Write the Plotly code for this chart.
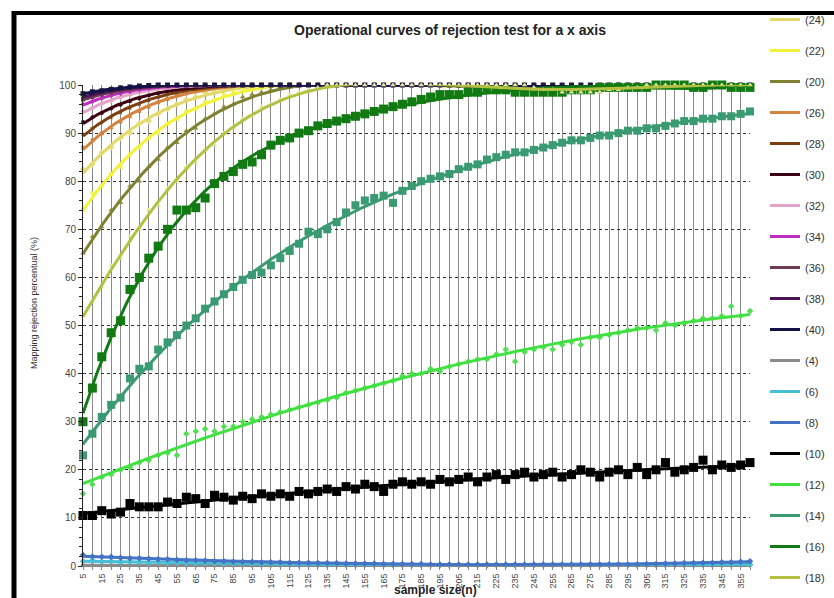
import numpy as np
import plotly.graph_objects as go

# ---------------- data ----------------
sample_size = [5, 10, 15, 20, 25, 30, 35, 40, 45, 50, 55, 60,
               65, 70, 75, 80, 85, 90, 95, 100, 105, 110, 115, 120,
               125, 130, 135, 140, 145, 150, 155, 160, 165, 170, 175, 180,
               185, 190, 195, 200, 205, 210, 215, 220, 225, 230, 235, 240,
               245, 250, 255, 260, 265, 270, 275, 280, 285, 290, 295, 300,
               305, 310, 315, 320, 325, 330, 335, 340, 345, 350, 355, 360]

rej_24 = [82.5, 83.5, 86.0, 87.0, 89.0, 90.0, 92.0, 92.5, 94.0, 95.0, 96.0, 97.0,
          97.5, 98.5, 98.5, 99.5, 99.5, 100, 100, 100, 100, 100, 100, 100,
          100, 100, 100, 100, 100, 100, 100, 100, 100, 100, 100, 100,
          100, 100, 100, 100, 100, 100, 100, 100, 100, 100, 100, 100,
          99.5, 99.5, 99.0, 99.0, 99.0, 99.0, 99.0, 99.0, 99.0, 99.5, 99.5, 100,
          100, 100, 100, 100, 100, 100, 100, 100, 100, 100, 100, 100]
rej_22 = [74.0, 77.5, 79.0, 81.5, 83.0, 85.5, 87.0, 89.0, 90.0, 92.0, 93.0, 94.5,
          95.0, 96.5, 97.0, 98.0, 98.5, 99.0, 99.5, 100, 100, 100, 100, 100,
          100, 100, 100, 100, 100, 100, 100, 100, 100, 100, 100, 100,
          100, 100, 100, 100, 100, 100, 100, 100, 100, 100, 100, 100,
          99.5, 99.5, 99.0, 99.0, 99.0, 99.0, 99.0, 99.0, 99.0, 99.5, 99.5, 100,
          100, 100, 100, 100, 100, 100, 100, 100, 100, 100, 100, 100]
rej_20 = [65.0, 68.5, 70.5, 74.0, 75.5, 79.0, 80.0, 83.0, 84.5, 87.0, 88.0, 90.5,
          91.0, 93.0, 94.0, 95.5, 96.0, 97.5, 98.0, 98.5, 99.0, 99.5, 100, 100,
          100, 100, 100, 100, 100, 100, 100, 100, 100, 100, 100, 100,
          100, 100, 100, 100, 100, 100, 100, 100, 100, 100, 100, 100,
          99.5, 99.0, 99.0, 98.5, 98.5, 98.5, 98.5, 98.5, 99.0, 99.0, 99.5, 99.5,
          100, 100, 100, 100, 100, 100, 100, 100, 100, 100, 100, 100]
rej_26 = [87.0, 88.5, 89.9, 91.2, 92.4, 93.5, 94.6, 95.5, 96.4, 97.1, 97.8, 98.4,
          98.9, 99.3, 99.6, 99.8, 100, 100, 100, 100, 100, 100, 100, 100,
          100, 100, 100, 100, 100, 100, 100, 100, 100, 100, 100, 100,
          100, 100, 100, 100, 100, 100, 100, 100, 100, 100, 100, 100,
          100, 99.5, 99.5, 99.5, 99.5, 99.5, 99.5, 99.5, 99.5, 100, 100, 100,
          100, 100, 100, 100, 100, 100, 100, 100, 100, 100, 100, 100]
rej_28 = [89.8, 91.0, 92.2, 93.3, 94.3, 95.2, 96.0, 96.8, 97.5, 98.1, 98.6, 99.0,
          99.4, 99.6, 99.8, 100, 100, 100, 100, 100, 100, 100, 100, 100,
          100, 100, 100, 100, 100, 100, 100, 100, 100, 100, 100, 100,
          100, 100, 100, 100, 100, 100, 100, 100, 100, 100, 100, 100,
          100, 99.5, 99.5, 99.5, 99.5, 99.5, 99.5, 99.5, 99.5, 100, 100, 100,
          100, 100, 100, 100, 100, 100, 100, 100, 100, 100, 100, 100]
rej_30 = [92.3, 93.3, 94.2, 95.1, 95.9, 96.6, 97.2, 97.8, 98.3, 98.8, 99.1, 99.5,
          99.7, 99.9, 100, 100, 100, 100, 100, 100, 100, 100, 100, 100,
          100, 100, 100, 100, 100, 100, 100, 100, 100, 100, 100, 100,
          100, 100, 100, 100, 100, 100, 100, 100, 100, 100, 100, 100,
          100, 99.5, 99.5, 99.5, 99.5, 99.5, 99.5, 99.5, 99.5, 100, 100, 100,
          100, 100, 100, 100, 100, 100, 100, 100, 100, 100, 100, 100]
rej_32 = [94.5, 95.3, 96.1, 96.7, 97.4, 97.9, 98.4, 98.8, 99.2, 99.5, 99.7, 99.9,
          100, 100, 100, 100, 100, 100, 100, 100, 100, 100, 100, 100,
          100, 100, 100, 100, 100, 100, 100, 100, 100, 100, 100, 100,
          100, 100, 100, 100, 100, 100, 100, 100, 100, 100, 100, 100,
          100, 99.5, 99.5, 99.5, 99.5, 99.5, 99.5, 99.5, 99.5, 100, 100, 100,
          100, 100, 100, 100, 100, 100, 100, 100, 100, 100, 100, 100]
rej_34 = [96.0, 96.6, 97.2, 97.8, 98.2, 98.6, 99.0, 99.3, 99.6, 99.8, 99.9, 100,
          100, 100, 100, 100, 100, 100, 100, 100, 100, 100, 100, 100,
          100, 100, 100, 100, 100, 100, 100, 100, 100, 100, 100, 100,
          100, 100, 100, 100, 100, 100, 100, 100, 100, 100, 100, 100,
          100, 100, 99.5, 99.5, 99.5, 99.5, 99.5, 99.5, 100, 100, 100, 100,
          100, 100, 100, 100, 100, 100, 100, 100, 100, 100, 100, 100]
rej_36 = [97.0, 97.5, 98.0, 98.4, 98.8, 99.1, 99.4, 99.6, 99.8, 99.9, 100, 100,
          100, 100, 100, 100, 100, 100, 100, 100, 100, 100, 100, 100,
          100, 100, 100, 100, 100, 100, 100, 100, 100, 100, 100, 100,
          100, 100, 100, 100, 100, 100, 100, 100, 100, 100, 100, 100,
          100, 100, 100, 100, 100, 100, 100, 100, 100, 100, 100, 100,
          100, 100, 100, 100, 100, 100, 100, 100, 100, 100, 100, 100]
rej_38 = [97.5, 98.0, 98.4, 98.8, 99.1, 99.4, 99.6, 99.8, 99.9, 100, 100, 100,
          100, 100, 100, 100, 100, 100, 100, 100, 100, 100, 100, 100,
          100, 100, 100, 100, 100, 100, 100, 100, 100, 100, 100, 100,
          100, 100, 100, 100, 100, 100, 100, 100, 100, 100, 100, 100,
          100, 100, 100, 100, 100, 100, 100, 100, 100, 100, 100, 100,
          100, 100, 100, 100, 100, 100, 100, 100, 100, 100, 100, 100]
rej_40 = [98.2, 98.6, 98.8, 99.1, 99.4, 99.6, 99.8, 99.9, 100, 100, 100, 100,
          100, 100, 100, 100, 100, 100, 100, 100, 100, 100, 100, 100,
          100, 100, 100, 100, 100, 100, 100, 100, 100, 100, 100, 100,
          100, 100, 100, 100, 100, 100, 100, 100, 100, 100, 100, 100,
          100, 100, 100, 100, 100, 100, 100, 100, 100, 100, 100, 100,
          100, 100, 100, 100, 100, 100, 100, 100, 100, 100, 100, 100]
rej_4 = [0.2, 0.2, 0.2, 0.2, 0.2, 0.2, 0.1, 0.1, 0.1, 0.1, 0.1, 0.1,
         0.1, 0.1, 0.1, 0.1, 0.1, 0.1, 0.1, 0.1, 0.1, 0.1, 0.1, 0.1,
         0.1, 0.1, 0.1, 0.1, 0.1, 0.1, 0.1, 0.1, 0.1, 0.1, 0.1, 0.1,
         0.1, 0.1, 0.1, 0.1, 0.1, 0.1, 0.1, 0.1, 0.1, 0.1, 0.1, 0.1,
         0.1, 0.1, 0.1, 0.1, 0.1, 0.1, 0.1, 0.1, 0.1, 0.1, 0.1, 0.1,
         0.1, 0.1, 0.1, 0.1, 0.1, 0.1, 0.1, 0.1, 0.1, 0.1, 0.1, 0.1]
rej_6 = [1.0, 1.2, 0.9, 1.0, 0.8, 0.9, 0.8, 0.7, 0.8, 0.6, 0.7, 0.6,
         0.5, 0.6, 0.5, 0.4, 0.5, 0.4, 0.4, 0.3, 0.4, 0.3, 0.3, 0.3,
         0.3, 0.3, 0.2, 0.3, 0.2, 0.2, 0.3, 0.2, 0.2, 0.2, 0.2, 0.2,
         0.2, 0.2, 0.2, 0.2, 0.2, 0.2, 0.2, 0.2, 0.2, 0.2, 0.2, 0.2,
         0.2, 0.2, 0.2, 0.2, 0.2, 0.2, 0.2, 0.2, 0.2, 0.2, 0.2, 0.2,
         0.2, 0.2, 0.2, 0.2, 0.2, 0.2, 0.3, 0.2, 0.3, 0.3, 0.3, 0.3]
rej_8 = [2.3, 2.0, 1.9, 1.9, 1.7, 1.6, 1.6, 1.5, 1.4, 1.4, 1.3, 1.2,
         1.2, 1.1, 1.0, 1.0, 0.9, 0.9, 0.9, 0.8, 0.8, 0.8, 0.7, 0.7,
         0.7, 0.6, 0.6, 0.6, 0.5, 0.5, 0.5, 0.5, 0.4, 0.4, 0.4, 0.4,
         0.4, 0.3, 0.3, 0.3, 0.3, 0.3, 0.3, 0.3, 0.3, 0.3, 0.3, 0.3,
         0.3, 0.3, 0.3, 0.3, 0.3, 0.3, 0.3, 0.3, 0.3, 0.3, 0.3, 0.3,
         0.4, 0.4, 0.5, 0.5, 0.6, 0.6, 0.7, 0.7, 0.8, 0.8, 0.9, 1.0]
rej_10 = [10.5, 10.5, 11.5, 10.8, 11.2, 13.0, 12.3, 12.3, 12.3, 13.3, 13.0, 14.3,
          14.0, 13.0, 14.7, 14.3, 13.7, 14.5, 14.0, 15.0, 14.5, 15.0, 14.5, 15.5,
          15.0, 15.5, 16.0, 15.5, 16.5, 16.0, 17.0, 16.5, 15.5, 17.0, 17.5, 17.0,
          17.5, 17.0, 18.0, 17.5, 18.0, 18.5, 17.5, 18.5, 19.0, 18.0, 19.0, 19.5,
          18.5, 19.0, 19.5, 18.5, 19.0, 20.0, 19.5, 18.5, 19.5, 20.0, 19.0, 20.5,
          19.0, 20.0, 21.5, 19.5, 20.0, 20.5, 22.0, 20.0, 21.0, 20.5, 21.0, 21.5]
rej_12 = [15.0, 17.0, 18.5, 19.0, 20.0, 20.5, 21.5, 22.0, 23.0, 23.5, 23.0, 27.5,
          28.0, 28.5, 28.0, 29.0, 29.0, 30.0, 30.5, 31.0, 31.5, 32.0, 32.5, 33.0,
          33.5, 34.0, 34.5, 35.0, 36.0, 36.5, 37.0, 37.5, 38.0, 38.5, 39.5, 40.0,
          40.0, 41.0, 40.5, 41.5, 42.0, 42.5, 43.0, 43.0, 44.0, 45.0, 42.5, 44.5,
          45.0, 45.5, 45.0, 46.0, 46.5, 46.0, 47.5, 47.5, 48.0, 48.5, 49.0, 49.5,
          49.5, 49.0, 50.5, 50.0, 50.5, 51.0, 51.5, 51.5, 52.0, 54.0, 52.0, 53.0]
rej_14 = [23.0, 27.5, 31.0, 33.5, 35.0, 39.0, 41.0, 41.5, 45.0, 46.5, 48.0, 50.0,
          51.5, 53.5, 55.0, 56.5, 58.0, 59.5, 60.5, 61.0, 62.5, 64.0, 65.5, 67.0,
          69.5, 69.0, 70.0, 71.5, 73.5, 75.0, 76.0, 76.5, 77.0, 75.5, 78.0, 79.0,
          80.0, 80.5, 81.0, 81.5, 82.5, 83.0, 83.5, 84.5, 85.0, 85.5, 86.0, 86.0,
          86.5, 87.0, 87.5, 88.0, 88.5, 88.5, 89.0, 89.5, 89.5, 90.0, 90.5, 90.5,
          91.0, 91.0, 91.5, 92.0, 92.5, 92.5, 93.0, 93.0, 93.5, 93.5, 94.0, 94.5]
rej_16 = [30.0, 37.0, 43.5, 48.5, 51.0, 57.5, 60.0, 64.0, 66.5, 70.0, 74.0, 74.0,
          74.5, 76.5, 79.5, 81.0, 82.0, 83.5, 84.0, 85.5, 87.5, 88.5, 89.0, 90.0,
          90.5, 91.5, 92.0, 92.5, 93.0, 93.5, 94.0, 94.5, 95.0, 95.5, 96.0, 96.5,
          97.0, 97.5, 98.0, 98.0, 98.0, 98.5, 98.5, 99.0, 99.0, 99.0, 98.5, 98.5,
          98.5, 98.5, 98.5, 98.5, 99.0, 99.0, 99.0, 99.5, 99.5, 99.5, 99.5, 99.5,
          99.5, 100, 100, 100, 100, 99.5, 99.5, 100, 100, 99.5, 99.5, 99.5]
rej_18 = [52.0, 55.0, 58.0, 62.5, 64.0, 68.5, 70.0, 74.0, 75.0, 78.5, 80.0, 83.0,
          84.0, 86.5, 87.5, 90.0, 91.0, 93.0, 93.5, 95.5, 96.0, 97.0, 98.0, 98.5,
          99.0, 99.5, 100, 100, 100, 100, 100, 100, 100, 100, 100, 100,
          100, 100, 100, 100, 100, 100, 100, 100, 100, 100, 100, 100,
          99.5, 99.0, 99.0, 98.5, 98.5, 98.5, 98.5, 98.5, 99.0, 99.0, 99.5, 99.5,
          100, 100, 100, 100, 100, 100, 100, 100, 100, 100, 100, 100]

series_names = ["(24)", "(22)", "(20)", "(26)", "(28)", "(30)", "(32)", "(34)",
                "(36)", "(38)", "(40)", "(4)", "(6)", "(8)", "(10)", "(12)",
                "(14)", "(16)", "(18)"]
series_values = [rej_24, rej_22, rej_20, rej_26, rej_28, rej_30, rej_32, rej_34,
                 rej_36, rej_38, rej_40, rej_4, rej_6, rej_8, rej_10, rej_12,
                 rej_14, rej_16, rej_18]

# ---------------- styles ----------------
style = {
    "(24)": dict(color="#e3d86a", mcolor="#e8df80", symbol="diamond", size=5, deg=6),
    "(22)": dict(color="#f2f23c", mcolor="#f4f060", symbol="square", size=4, deg=6),
    "(20)": dict(color="#808033", mcolor="#90903c", symbol="triangle-up", size=5, deg=6),
    "(26)": dict(color="#d4843f", mcolor="#d4843f", symbol="x", size=4, deg=6),
    "(28)": dict(color="#7b3f12", mcolor="#7b3f12", symbol="star", size=4, deg=6),
    "(30)": dict(color="#3b0012", mcolor="#3b0012", symbol="circle", size=4, deg=6),
    "(32)": dict(color="#e4a3c9", mcolor="#e4a3c9", symbol="cross", size=4, deg=6),
    "(34)": dict(color="#bf2fbf", mcolor="#bf2fbf", symbol="diamond", size=4, deg=6),
    "(36)": dict(color="#6f3a55", mcolor="#6f3a55", symbol="square", size=4, deg=6),
    "(38)": dict(color="#4a1452", mcolor="#4a1452", symbol="triangle-up", size=4, deg=6),
    "(40)": dict(color="#121249", mcolor="#1a1a40", symbol="square", size=5, deg=6),
    "(4)": dict(color="#8c8c8c", mcolor="#8c8c8c", symbol="diamond", size=4, deg=1),
    "(6)": dict(color="#47bfd6", mcolor="#47bfd6", symbol="diamond", size=5, deg=2),
    "(8)": dict(color="#4472c4", mcolor="#4472c4", symbol="diamond", size=5, deg=2),
    "(10)": dict(color="#000000", mcolor="#000000", symbol="square", size=9, deg=2),
    "(12)": dict(color="#3fe03f", mcolor="#55dd55", symbol="diamond", size=5, deg=2),
    "(14)": dict(color="#3a9a72", mcolor="#3a9a72", symbol="square", size=8, deg=4),
    "(16)": dict(color="#127a12", mcolor="#127a12", symbol="square", size=9, deg=5),
    "(18)": dict(color="#b3c142", mcolor="#dfe69a", symbol="triangle-up", size=5, deg=6),
}

fig = go.Figure()
x_arr = np.array(sample_size, dtype=float)
x_fine = np.linspace(x_arr.min(), x_arr.max(), 356)

for rank, (name, vals) in enumerate(zip(series_names, series_values)):
    st = style[name]
    fig.add_trace(go.Scatter(
        x=sample_size, y=vals, mode="markers", showlegend=False, cliponaxis=False,
        marker=dict(symbol=st["symbol"], size=st["size"], color=st["mcolor"],
                    line=dict(width=0)),
        hoverinfo="skip"))
    poly = np.polynomial.Polynomial.fit(x_arr, np.array(vals, dtype=float), st["deg"])
    fig.add_trace(go.Scatter(
        x=x_fine, y=poly(x_fine), mode="lines", name=name, legendgroup=name,
        legendrank=rank + 1, line=dict(color=st["color"], width=3)))

# ---------------- layout ----------------
L, R, T, B = 83, 84, 85, 32
W, H = 834, 598
pw, ph = W - L - R, H - T - B


def px_x(p):
    return (p - L) / pw


def px_y(p):
    return (H - B - p) / ph


tick_text = [str(v) if i % 2 == 0 else "" for i, v in enumerate(sample_size)]

fig.update_layout(
    width=W, height=H,
    margin=dict(l=L, r=R, t=T, b=B, autoexpand=False),
    paper_bgcolor="white", plot_bgcolor="white",
    font=dict(family="Liberation Sans, Arial, sans-serif", color="#333"),
    showlegend=True,
    legend=dict(x=px_x(765), y=px_y(5), xanchor="left", yanchor="top",
                bgcolor="rgba(0,0,0,0)", font=dict(size=11, color="#333"),
                tracegroupgap=12, itemwidth=30, maxheight=900),
    xaxis=dict(range=[sample_size[0], sample_size[-1]], tickmode="array",
               tickvals=sample_size, ticktext=tick_text, tickangle=-90,
               tickfont=dict(size=9, color="#444"), showgrid=True,
               gridcolor="#8a8a8a", gridwidth=1, showline=True,
               linecolor="#888", ticks="outside", ticklen=3, tickcolor="#888",
               zeroline=False, automargin=False),
    yaxis=dict(range=[0, 100], dtick=10, tickfont=dict(size=10, color="#444"),
               showgrid=True, gridcolor="#333", griddash="dot", gridwidth=1,
               showline=True, linecolor="#222", ticks="outside", ticklen=4,
               tickcolor="#222", zeroline=False, automargin=False,
               minor=dict(dtick=2, ticks="outside", ticklen=3, tickcolor="#222",
                          showgrid=False)),
    annotations=[
        dict(text="<b>Operational curves of rejection test for a x axis</b>",
             x=px_x(450), y=px_y(30), xref="paper", yref="paper",
             xanchor="center", yanchor="middle",
             showarrow=False, font=dict(size=14, color="#222")),
        dict(text="Mapping rejection percentual (%)", textangle=-90,
             x=px_x(34), y=px_y(303), xref="paper", yref="paper",
             xanchor="center", yanchor="middle",
             showarrow=False, font=dict(size=9, color="#333")),
        dict(text="<b>sample size(n)</b>", x=px_x(435), y=px_y(590),
             xref="paper", yref="paper", xanchor="center", yanchor="middle",
             showarrow=False, font=dict(size=12, color="#222")),
    ],
    shapes=[
        dict(type="line", xref="paper", yref="paper", x0=px_x(14), x1=px_x(14),
             y0=px_y(11), y1=px_y(600), line=dict(color="black", width=5)),
        dict(type="line", xref="paper", yref="paper", x0=px_x(12), x1=px_x(840),
             y0=px_y(13), y1=px_y(13), line=dict(color="black", width=4)),
    ],
)

fig.write_html("out.html",
               config={"displayModeBar": False},
               post_script="document.body.style.margin='0';"
                           "document.body.style.overflow='hidden';")
